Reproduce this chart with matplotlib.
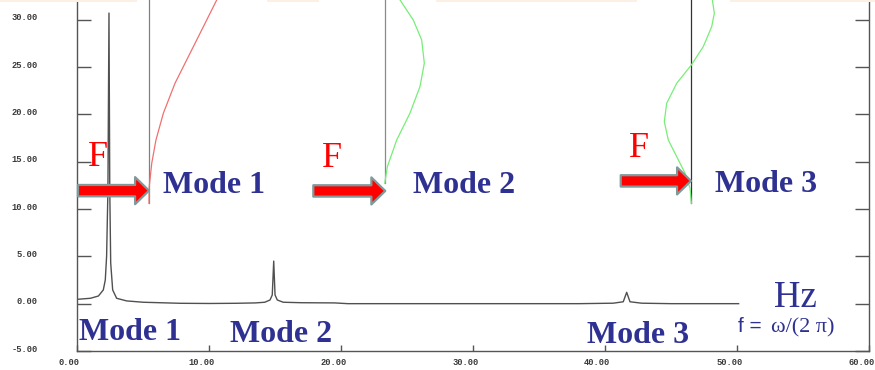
import matplotlib
matplotlib.use("Agg")
import matplotlib.pyplot as plt
from matplotlib.transforms import ScaledTranslation
from matplotlib.patches import Rectangle

# ---- data ----
freq = [0.0, 1.0, 1.6, 1.97, 2.12, 2.22, 2.32, 2.40, 2.46, 2.53, 2.68, 2.98, 3.74, 5.0,
        7.8, 10.0, 12.0, 13.5, 14.2, 14.6, 14.77, 14.88, 14.98, 15.15, 15.6, 17.0,
        19.5, 20.5, 30.0, 38.0, 40.6, 41.36, 41.62, 41.87, 42.76, 45.0, 50.1]
amp = [0.46, 0.57, 0.81, 1.45, 2.5, 5.0, 12.0, 30.7, 12.0, 4.3, 1.45, 0.57, 0.29, 0.15,
       0.04, 0.02, 0.04, 0.08, 0.15, 0.39, 0.92, 4.5, 0.92, 0.39, 0.15, 0.1,
       0.08, 0.0, 0.0, 0.0, 0.05, 0.2, 1.2, 0.2, 0.05, 0.0, 0.0]

mode1_x = [5.43, 5.45, 5.64, 5.96, 6.52, 7.40, 8.54, 9.55, 10.56]
mode1_y = [10.61, 12.37, 14.84, 17.30, 20.12, 23.28, 26.45, 29.26, 32.08]
mode2_x = [23.29, 23.49, 24.2, 25.2, 25.96, 26.29, 26.09, 25.45, 24.45]
mode2_y = [12.72, 14.48, 17.30, 20.12, 22.93, 25.40, 27.86, 29.97, 32.08]
mode3_x = [46.52, 46.42, 46.04, 45.41, 44.77, 44.47, 44.65, 45.41, 46.52, 47.42, 48.06, 48.26, 48.11]
mode3_y = [10.61, 12.19, 13.78, 15.53, 17.30, 19.23, 21.17, 23.28, 25.22, 27.15, 29.26, 30.68, 32.08]

ref_x = [5.43, 23.29, 46.52]
ref_y0 = [10.61, 12.72, 10.61]
ref_colors = ["#808080", "#8a8a8a", "#333333"]

arrow_tail_x = [0.05, 17.88, 41.17]
arrow_tip_x = [5.43, 23.33, 46.49]
arrow_y = [11.94, 11.91, 12.97]

f_x = [0.79, 18.52, 41.80]
f_y = [14.58, 14.48, 15.53]

mode_labels = ["Mode 1", "Mode 2", "Mode 3"]
top_label_x = [6.47, 25.41, 48.31]
top_label_y = [11.73, 11.70, 11.84]
bot_label_x = [0.15, 11.55, 38.64]
bot_label_y = [-3.82, -4.0, -4.14]

xticks = [0, 10, 20, 30, 40, 50, 60]
yticks = [-5, 0, 5, 10, 15, 20, 25, 30]
xtick_labels = ["%.2f" % v for v in xticks]
ytick_labels = ["%.2f" % v for v in yticks]

BLUE = "#2e3192"

fig = plt.figure(figsize=(8.75, 3.7), dpi=100)
ax = fig.add_axes([77.3 / 875, 19 / 370, 792 / 875, 351 / 370])
ax.set_facecolor("none")

# peach band remnants at top (figure pixel coordinates)
for x0, x1 in [(0, 137), (267, 319), (436, 637), (730, 875)]:
    fig.patches.append(Rectangle((x0 / 875, 368 / 370), (x1 - x0) / 875, 2 / 370,
                                 transform=fig.transFigure, facecolor="#fcefe3",
                                 edgecolor="none", zorder=0))

ax.set_xlim(0, 60)
ax.set_ylim(-5, 32.08)

ax.plot(freq, amp, color="#505050", lw=1.0, zorder=2)

for x, y0, c in zip(ref_x, ref_y0, ref_colors):
    ax.plot([x, x], [y0, 32.08], color=c, lw=0.9, zorder=2)

ax.plot(mode1_x, mode1_y, color="#f07070", lw=0.9, zorder=3)
ax.plot(mode2_x, mode2_y, color="#77ee77", lw=0.9, zorder=3)
ax.plot(mode3_x, mode3_y, color="#77ee77", lw=0.9, zorder=3)

for xt, xh, y in zip(arrow_tail_x, arrow_tip_x, arrow_y):
    ax.annotate("", xy=(xh, y), xytext=(xt, y),
                arrowprops=dict(arrowstyle="simple,head_length=1.0,head_width=1.95,tail_width=0.82",
                                mutation_scale=10, facecolor="#ff0000",
                                edgecolor="#7f9a9a", lw=1.6, shrinkA=0, shrinkB=0),
                zorder=4)

for x, y in zip(f_x, f_y):
    ax.text(x, y, "F", color="#ff0000", fontsize=26, family="Liberation Serif",
            ha="left", va="baseline", zorder=5)

for lab, x, y in zip(mode_labels, top_label_x, top_label_y):
    ax.text(x, y, lab, color=BLUE, fontsize=23, family="Liberation Serif",
            fontweight="bold", ha="left", va="baseline", zorder=5)
for lab, x, y in zip(mode_labels, bot_label_x, bot_label_y):
    ax.text(x, y, lab, color=BLUE, fontsize=23, family="Liberation Serif",
            fontweight="bold", ha="left", va="baseline", zorder=5)

ax.text(52.78, -0.31, "Hz", color=BLUE, fontsize=26.5, family="Liberation Serif",
        ha="left", va="baseline", zorder=5)
ax.text(50.08, -3.0, "f =", color=BLUE, fontsize=15, family="Liberation Sans",
        ha="left", va="baseline", zorder=5)
ax.text(52.55, -3.0, "\u03c9/(2 \u03c0)", color=BLUE, fontsize=16, family="Liberation Serif",
        ha="left", va="baseline", zorder=5)

# axes styling
for side in ["left", "right", "bottom"]:
    ax.spines[side].set_color("#555555")
    ax.spines[side].set_linewidth(1.0)
ax.spines["top"].set_visible(False)

ax.set_xticks(xticks)
ax.set_xticklabels(xtick_labels)
ax.set_yticks(yticks)
ax.set_yticklabels(ytick_labels)
ax.tick_params(axis="y", which="both", direction="in", length=10, width=1.0,
               color="#555555", left=True, right=True, labelleft=True,
               labelright=False, pad=28.5)
ax.tick_params(axis="x", direction="in", length=4.5, width=1.0, color="#555555",
               top=False, pad=5)
for lab in ax.get_xticklabels() + ax.get_yticklabels():
    lab.set_family("Liberation Mono")
    lab.set_fontweight("bold")
    lab.set_fontsize(6.3)
    lab.set_color("#3a3a3a")
for lab in ax.get_xticklabels():
    lab.set_transform(lab.get_transform() + ScaledTranslation(-8 / 100, 0, fig.dpi_scale_trans))
for lab in ax.get_yticklabels():
    lab.set_transform(lab.get_transform() + ScaledTranslation(0, 3 / 100, fig.dpi_scale_trans))

fig.savefig("out.png", dpi=100)
